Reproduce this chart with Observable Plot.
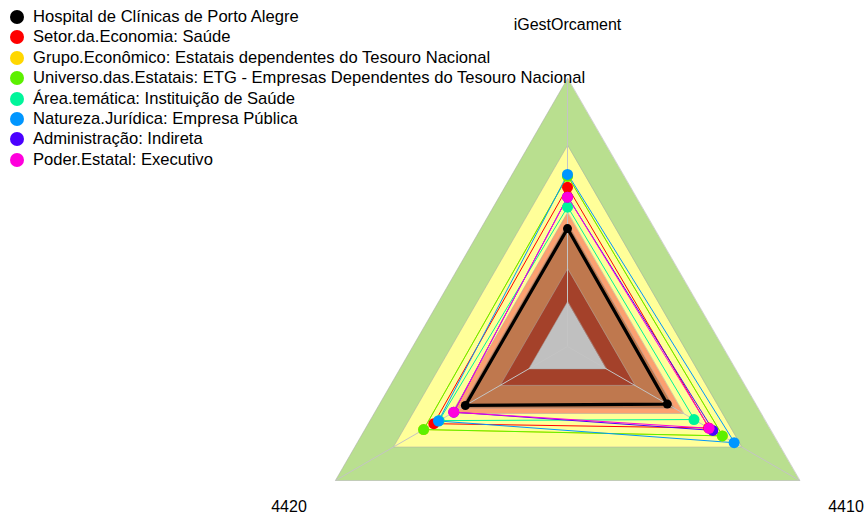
<!DOCTYPE html>
<html>
<head>
<meta charset="utf-8">
<script src="https://cdn.jsdelivr.net/npm/d3@7"></script>
<script src="https://cdn.jsdelivr.net/npm/@observablehq/plot@0.6"></script>
<style>
  html, body { margin: 0; padding: 0; background: #fff; }
  #wrap { position: relative; width: 867px; height: 519px; font-family: "Liberation Sans", Arial, sans-serif; }
  #legend { position: absolute; left: 0; top: 0; }
  .row { position: absolute; left: 0; height: 20px; white-space: nowrap; font-size: 16.6px; color: #000; }
  .sw { position: absolute; left: 10px; width: 14px; height: 14px; border-radius: 50%; }
  .lab { position: absolute; left: 33px; line-height: 20px; }
</style>
</head>
<body>
<div id="wrap"><div id="chart"></div><div id="legend"></div></div>
<script>
// ---- data ----
const axes = ["iGestOrcament", "4420", "4410"];
const series = [
  "Hospital de Clínicas de Porto Alegre",
  "Setor.da.Economia: Saúde",
  "Grupo.Econômico: Estatais dependentes do Tesouro Nacional",
  "Universo.das.Estatais: ETG - Empresas Dependentes do Tesouro Nacional",
  "Área.temática: Instituição de Saúde",
  "Natureza.Jurídica: Empresa Pública",
  "Administração: Indireta",
  "Poder.Estatal: Executivo"
];
const seriesColors = ["#000000", "#ff0000", "#ffd700", "#5cf000", "#00f59a", "#0096ff", "#4a00ff", "#ff00dc"];
const valuesIGestOrcament = [0.44, 0.594, 0.635, 0.635, 0.52, 0.642, 0.557, 0.557];
const values4420 = [0.44, 0.576, 0.62, 0.62, 0.553, 0.556, 0.49, 0.49];
const values4410 = [0.43, 0.608, 0.667, 0.667, 0.545, 0.718, 0.626, 0.61];
const bandLevels = [1.0, 0.75, 0.5, 0.46, 0.29, 0.167];
const bandColors = ["#b9df8f", "#ffff99", "#fca070", "#bf784e", "#a4412a", "#c0c0c0"];
const labelRadius = 1.2;

// ---- geometry helpers ----
const angles = [90, 210, 330].map(a => a * Math.PI / 180);
const pt = (r, i) => ({x: r * Math.cos(angles[i]), y: r * Math.sin(angles[i])});

const W = 867, H = 519, cx = 567, cy = 346, R = 268;

const bands = bandLevels.map((lv, k) => ({
  color: bandColors[k],
  pts: axes.map((a, i) => pt(lv, i))
}));
const spokes = axes.map((a, i) => ({axis: a, ...pt(1, i)}));
const labels = axes.map((a, i) => ({axis: a, ...pt(labelRadius, i)}));
const allVals = [valuesIGestOrcament, values4420, values4410];
const long = [];
series.forEach((s, j) => axes.forEach((a, i) => long.push({series: s, axis: a, value: allVals[i][j], ...pt(allVals[i][j], i)})));

const marks = [];
bands.forEach(b => marks.push(Plot.line(b.pts, {x: "x", y: "y", curve: "linear-closed", fill: b.color, stroke: "#a8a8a8", strokeWidth: 0.5})));
marks.push(Plot.link(spokes, {x1: d => 0, y1: d => 0, x2: "x", y2: "y", stroke: "#c4c4c4", strokeWidth: 1}));
series.forEach((s, j) => {
  marks.push(Plot.line(long.filter(d => d.series === s), {x: "x", y: "y", stroke: "series", curve: "linear-closed", strokeWidth: j === 0 ? 3.2 : 1}));
});
series.forEach((s, j) => {
  marks.push(Plot.dot(long.filter(d => d.series === s), {x: "x", y: "y", fill: "series", r: j === 0 ? 4.5 : 5.5, stroke: "none"}));
});
marks.push(Plot.text(labels, {x: "x", y: "y", text: "axis", fontSize: 16, fill: "#000", fontFamily: "Liberation Sans, Arial, sans-serif"}));

const chart = Plot.plot({
  width: W, height: H,
  marginTop: 0, marginBottom: 0, marginLeft: 0, marginRight: 0,
  x: {domain: [-cx / R, (W - cx) / R], range: [0, W], axis: null},
  y: {domain: [-(H - cy) / R, cy / R], range: [H, 0], axis: null},
  color: {domain: series, range: seriesColors},
  style: {background: "#fff", overflow: "visible"},
  marks
});
document.getElementById("chart").appendChild(chart);

// ---- legend ----
const leg = document.getElementById("legend");
series.forEach((s, j) => {
  const row = document.createElement("div");
  row.className = "row";
  row.style.top = (7 + j * 20.4) + "px";
  const sw = document.createElement("div");
  sw.className = "sw";
  sw.style.top = "3px";
  sw.style.background = seriesColors[j];
  const lab = document.createElement("div");
  lab.className = "lab";
  lab.textContent = s;
  row.appendChild(sw); row.appendChild(lab);
  leg.appendChild(row);
});
</script>
</body>
</html>
